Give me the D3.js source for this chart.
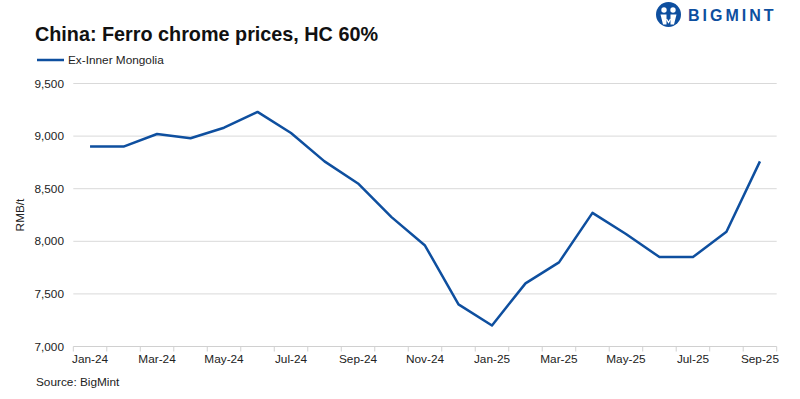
<!DOCTYPE html>
<html>
<head>
<meta charset="utf-8">
<script src="https://cdn.jsdelivr.net/npm/d3@7"></script>
<style>
  body { margin: 0; background: #fff; }
  svg { display: block; font-family: "Liberation Sans", Arial, sans-serif; }
</style>
</head>
<body>
<svg id="chart" width="800" height="399"></svg>
<script>
const months = ['Jan-24','Feb-24','Mar-24','Apr-24','May-24','Jun-24','Jul-24','Aug-24','Sep-24','Oct-24','Nov-24','Dec-24',
                'Jan-25','Feb-25','Mar-25','Apr-25','May-25','Jun-25','Jul-25','Aug-25','Sep-25'];
const prices = [8900, 8900, 9020, 8980, 9080, 9230, 9030, 8760, 8550, 8230, 7960, 7400,
                7200, 7600, 7800, 8270, 8070, 7850, 7850, 8090, 8760];
const yTicks = [7000, 7500, 8000, 8500, 9000, 9500];

const svg = d3.select('#chart');
const margin = { left: 73.3, right: 23.3, top: 83.5, bottom: 52.5 };
const width = 800, height = 399;
const fs = 11.8;

const x = d3.scaleBand().domain(months).range([margin.left, width - margin.right]);
const y = d3.scaleLinear().domain([7000, 9500]).range([height - margin.bottom, margin.top]);

// Title
svg.append('text')
  .attr('x', 35).attr('y', 41)
  .attr('font-size', 19.8).attr('font-weight', 'bold').attr('fill', '#111')
  .text('China: Ferro chrome prices, HC 60%');

// Legend
svg.append('line')
  .attr('x1', 37).attr('x2', 64).attr('y1', 60).attr('y2', 60)
  .attr('stroke', '#0e4f9f').attr('stroke-width', 2.5);
svg.append('text')
  .attr('x', 68).attr('y', 64).attr('font-size', fs).attr('fill', '#222')
  .text('Ex-Inner Mongolia');

// Gridlines
svg.append('g')
  .selectAll('line')
  .data(yTicks.slice(1))
  .join('line')
  .attr('x1', margin.left).attr('x2', width - margin.right)
  .attr('y1', d => y(d)).attr('y2', d => y(d))
  .attr('stroke', '#d9d9d9').attr('stroke-width', 1);

// Y axis labels
svg.append('g')
  .selectAll('text')
  .data(yTicks)
  .join('text')
  .attr('x', 64).attr('y', d => y(d) + 4)
  .attr('text-anchor', 'end').attr('font-size', fs).attr('fill', '#222')
  .text(d => d3.format(',')(d));

svg.append('text')
  .attr('transform', `translate(24,${(y(7000) + y(9500)) / 2}) rotate(-90)`)
  .attr('text-anchor', 'middle').attr('font-size', fs).attr('fill', '#222')
  .text('RMB/t');

// X axis
const xAxis = svg.append('g')
  .attr('transform', `translate(0,${y(7000)})`);
xAxis.append('line')
  .attr('x1', margin.left).attr('x2', width - margin.right)
  .attr('stroke', '#d0d0d0');
xAxis.selectAll('line.tick')
  .data(months.concat(['end']))
  .join('line')
  .attr('class', 'tick')
  .attr('x1', (d, i) => margin.left + i * x.step())
  .attr('x2', (d, i) => margin.left + i * x.step())
  .attr('y1', 0).attr('y2', 5)
  .attr('stroke', '#d0d0d0');
xAxis.selectAll('text')
  .data(months.filter((d, i) => i % 2 === 0))
  .join('text')
  .attr('x', d => x(d) + x.bandwidth() / 2)
  .attr('y', 16)
  .attr('text-anchor', 'middle').attr('font-size', fs).attr('fill', '#222')
  .text(d => d);

// Line
const line = d3.line()
  .x((d, i) => x(months[i]) + x.bandwidth() / 2)
  .y(d => y(d));
svg.append('path')
  .datum(prices)
  .attr('d', line)
  .attr('fill', 'none')
  .attr('stroke', '#0e4f9f')
  .attr('stroke-width', 2.5)
  .attr('stroke-linejoin', 'round');

// Source
svg.append('text')
  .attr('x', 36).attr('y', 386).attr('font-size', fs).attr('fill', '#222')
  .text('Source: BigMint');

// Logo
const logo = svg.append('g').attr('transform', 'translate(668.5,14.5)');
logo.append('circle').attr('r', 12.5).attr('fill', '#0e4f9f');
logo.append('circle').attr('cx', -4.5).attr('cy', -4.5).attr('r', 2.7).attr('fill', '#fff');
logo.append('circle').attr('cx', 4.5).attr('cy', -4.5).attr('r', 2.7).attr('fill', '#fff');
logo.append('path').attr('d', 'M-8,0 L-2,0 L-2,10 L-5.5,10 Z M8,0 L2,0 L2,10 L5.5,10 Z').attr('fill', '#fff');
logo.append('path').attr('d', 'M-2,4.5 L0,8 L2,4.5').attr('fill', 'none').attr('stroke', '#fff').attr('stroke-width', 1.3);
svg.append('text')
  .attr('x', 688).attr('y', 21).attr('font-size', 16).attr('font-weight', 'bold')
  .attr('letter-spacing', 3).attr('fill', '#0e4f9f')
  .text('BIGMINT');
</script>
</body>
</html>
